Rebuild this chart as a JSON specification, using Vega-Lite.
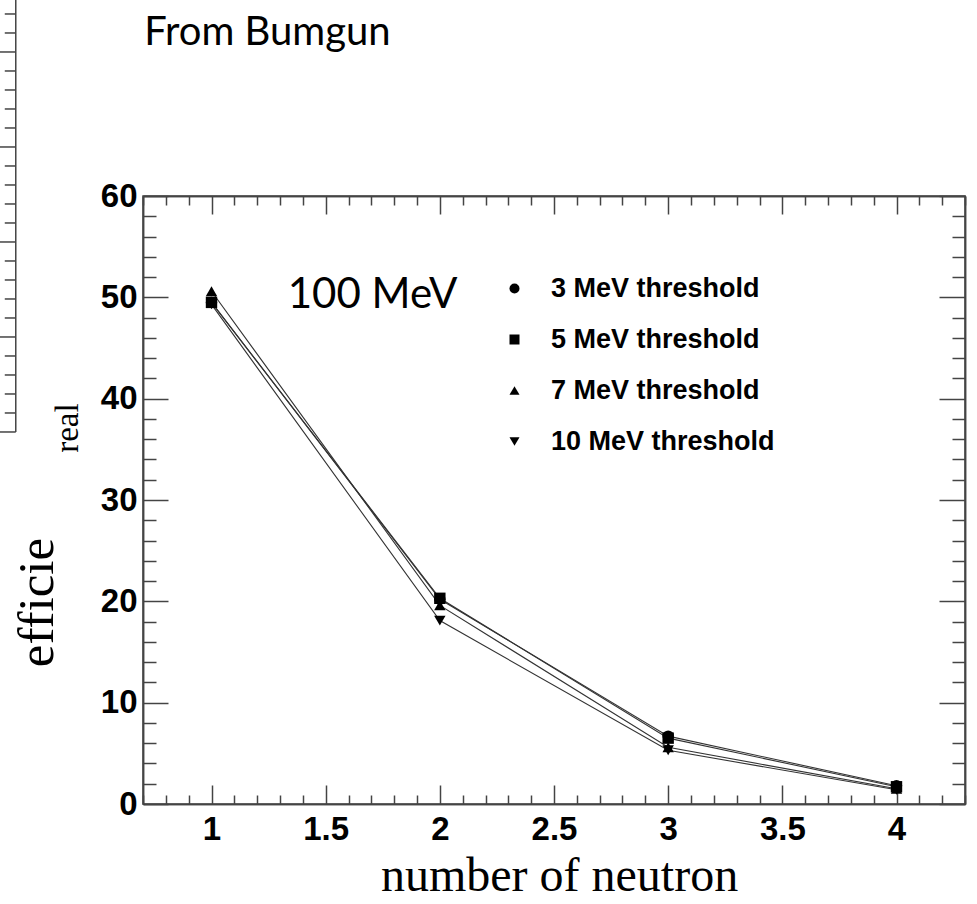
{
  "$schema": "https://vega.github.io/schema/vega-lite/v6.json",
  "width": 822,
  "height": 608,
  "autosize": {"type": "none"},
  "padding": {"left": 143, "top": 196, "right": 12, "bottom": 100},
  "background": "white",
  "config": {
    "view": {"stroke": "#444", "strokeWidth": 1.5},
    "axis": {
      "grid": false,
      "domainColor": "#444",
      "domainWidth": 1.5,
      "tickColor": "#444",
      "tickWidth": 1.5,
      "labelFont": "Liberation Sans",
      "labelFontWeight": "bold",
      "labelFontSize": 33,
      "labelColor": "black",
      "labelOverlap": false,
      "labelFlush": false
    }
  },
  "datasets": {
    "eff": [
      {"n": 1, "eff": 49.3, "thr": "10 MeV threshold"},
      {"n": 2, "eff": 18.1, "thr": "10 MeV threshold"},
      {"n": 3, "eff": 5.3, "thr": "10 MeV threshold"},
      {"n": 4, "eff": 1.4, "thr": "10 MeV threshold"},
      {"n": 1, "eff": 49.5, "thr": "3 MeV threshold"},
      {"n": 2, "eff": 20.2, "thr": "3 MeV threshold"},
      {"n": 3, "eff": 6.7, "thr": "3 MeV threshold"},
      {"n": 4, "eff": 1.8, "thr": "3 MeV threshold"},
      {"n": 1, "eff": 50.6, "thr": "7 MeV threshold"},
      {"n": 2, "eff": 19.6, "thr": "7 MeV threshold"},
      {"n": 3, "eff": 5.6, "thr": "7 MeV threshold"},
      {"n": 4, "eff": 1.5, "thr": "7 MeV threshold"},
      {"n": 1, "eff": 49.5, "thr": "5 MeV threshold"},
      {"n": 2, "eff": 20.3, "thr": "5 MeV threshold"},
      {"n": 3, "eff": 6.5, "thr": "5 MeV threshold"},
      {"n": 4, "eff": 1.7, "thr": "5 MeV threshold"}
    ],
    "energy": [{"n": 1.334, "eff": 48.95, "label": "100 MeV"}],
    "heading": [{"n": 0.705, "eff": 74.9, "label": "From Bumgun"}],
    "cut": [{"n": 0.4144, "eff": 37.1, "label": "real"}],
    "side": [
      {"v": 0, "major": true}, {"v": 0.2, "major": false}, {"v": 0.4, "major": false}, {"v": 0.6, "major": false}, {"v": 0.8, "major": false},
      {"v": 1, "major": true}, {"v": 1.2, "major": false}, {"v": 1.4, "major": false}, {"v": 1.6, "major": false}, {"v": 1.8, "major": false},
      {"v": 2, "major": true}, {"v": 2.2, "major": false}, {"v": 2.4, "major": false}, {"v": 2.6, "major": false}, {"v": 2.8, "major": false},
      {"v": 3, "major": true}, {"v": 3.2, "major": false}, {"v": 3.4, "major": false}, {"v": 3.6, "major": false}, {"v": 3.8, "major": false},
      {"v": 4, "major": true}, {"v": 4.2, "major": false}, {"v": 4.4, "major": false}
    ]
  },
  "layer": [
    {
      "layer": [
        {
          "data": {"name": "eff"},
          "mark": {"type": "line", "color": "#333", "strokeWidth": 1.1},
          "encoding": {
            "x": {
              "field": "n",
              "type": "quantitative",
              "scale": {"domain": [0.7, 4.3], "nice": false, "zero": false},
              "axis": {
                "orient": "bottom",
                "title": "number of neutron",
                "titleFont": "Liberation Serif",
                "titleFontSize": 48,
                "titleFontWeight": "normal",
                "titleColor": "black",
                "titleX": 416,
                "titleY": 86,
                "titleAlign": "center",
                "titleBaseline": "alphabetic",
                "values": [1, 1.5, 2, 2.5, 3, 3.5, 4],
                "format": "~g",
                "labelOverlap": false,
                "labelFlush": false,
                "tickSize": -19,
                "labelPadding": 28
              }
            },
            "y": {
              "field": "eff",
              "type": "quantitative",
              "scale": {"domain": [0, 60], "nice": false},
              "axis": {
                "orient": "left",
                "title": "efficie",
                "titleFont": "Liberation Serif",
                "titleFontSize": 51,
                "titleFontWeight": "normal",
                "titleColor": "black",
                "titleAngle": 270,
                "titleX": -91,
                "titleY": 406,
                "titleAlign": "center",
                "titleBaseline": "alphabetic",
                "values": [0, 10, 20, 30, 40, 50, 60],
                "labelOverlap": false,
                "labelFlush": false,
                "tickSize": -25,
                "labelPadding": 31
              }
            },
            "detail": {"field": "thr", "type": "nominal"}
          }
        },
        {
          "data": {"name": "eff"},
          "mark": {"type": "point", "filled": true, "opacity": 1, "size": 130, "color": "black"},
          "encoding": {
            "x": {"field": "n", "type": "quantitative"},
            "y": {"field": "eff", "type": "quantitative"},
            "shape": {
              "field": "thr",
              "type": "nominal",
              "scale": {
                "domain": ["3 MeV threshold", "5 MeV threshold", "7 MeV threshold", "10 MeV threshold"],
                "range": ["circle", "square", "triangle-up", "triangle-down"]
              },
              "legend": {
                "orient": "none",
                "legendX": 358,
                "legendY": 79,
                "title": null,
                "padding": 0,
                "symbolSize": 100,
                "symbolFillColor": "black",
                "symbolStrokeColor": "black",
                "symbolStrokeWidth": 0,
                "labelFont": "Liberation Sans",
                "labelFontWeight": "bold",
                "labelFontSize": 27,
                "labelColor": "black",
                "labelOffset": 23,
                "rowPadding": 23,
                "labelLimit": 400
              }
            }
          }
        },
        {
          "data": {"name": "energy"},
          "mark": {"type": "text", "align": "left", "baseline": "alphabetic", "font": "Lato", "fontSize": 42, "color": "black"},
          "encoding": {
            "x": {"field": "n", "type": "quantitative"},
            "y": {"field": "eff", "type": "quantitative"},
            "text": {"field": "label"}
          }
        },
        {
          "data": {"name": "heading"},
          "mark": {"type": "text", "align": "left", "baseline": "alphabetic", "font": "Lato", "fontSize": 40, "color": "black"},
          "encoding": {
            "x": {"field": "n", "type": "quantitative"},
            "y": {"field": "eff", "type": "quantitative"},
            "text": {"field": "label"}
          }
        },
        {
          "data": {"name": "cut"},
          "mark": {"type": "text", "align": "center", "baseline": "alphabetic", "angle": 270, "font": "Liberation Serif", "fontSize": 33, "color": "black"},
          "encoding": {
            "x": {"field": "n", "type": "quantitative"},
            "y": {"field": "eff", "type": "quantitative"},
            "text": {"field": "label"}
          }
        }
      ]
    },
    {
      "data": {"name": "eff"},
      "mark": {"type": "point", "opacity": 0},
      "encoding": {
        "x": {
          "field": "n",
          "type": "quantitative",
          "scale": {"domain": [0.7, 4.3], "nice": false, "zero": false},
          "axis": {
            "orient": "bottom",
            "title": null,
            "labels": false,
            "values": [0.7, 0.8, 0.9, 1.1, 1.2, 1.3, 1.4, 1.6, 1.7, 1.8, 1.9, 2.1, 2.2, 2.3, 2.4, 2.6, 2.7, 2.8, 2.9, 3.1, 3.2, 3.3, 3.4, 3.6, 3.7, 3.8, 3.9, 4.1, 4.2, 4.3],
            "tickSize": -9
          }
        },
        "y": {
          "field": "eff",
          "type": "quantitative",
          "scale": {"domain": [0, 60], "nice": false},
          "axis": {
            "orient": "left",
            "title": null,
            "labels": false,
            "values": [2, 4, 6, 8, 12, 14, 16, 18, 22, 24, 26, 28, 32, 34, 36, 38, 42, 44, 46, 48, 52, 54, 56, 58],
            "tickSize": -13
          }
        }
      }
    },
    {
      "data": {"name": "eff"},
      "mark": {"type": "point", "opacity": 0},
      "encoding": {
        "x": {
          "field": "n",
          "type": "quantitative",
          "scale": {"domain": [0.7, 4.3], "nice": false, "zero": false},
          "axis": {
            "orient": "top",
            "title": null,
            "labels": false,
            "values": [1, 1.5, 2, 2.5, 3, 3.5, 4],
            "tickSize": -18
          }
        },
        "y": {
          "field": "eff",
          "type": "quantitative",
          "scale": {"domain": [0, 60], "nice": false},
          "axis": {
            "orient": "right",
            "title": null,
            "labels": false,
            "values": [0, 10, 20, 30, 40, 50, 60],
            "tickSize": -26
          }
        }
      }
    },
    {
      "data": {"name": "eff"},
      "mark": {"type": "point", "opacity": 0},
      "encoding": {
        "x": {
          "field": "n",
          "type": "quantitative",
          "scale": {"domain": [0.7, 4.3], "nice": false, "zero": false},
          "axis": {
            "orient": "top",
            "title": null,
            "labels": false,
            "values": [0.7, 0.8, 0.9, 1.1, 1.2, 1.3, 1.4, 1.6, 1.7, 1.8, 1.9, 2.1, 2.2, 2.3, 2.4, 2.6, 2.7, 2.8, 2.9, 3.1, 3.2, 3.3, 3.4, 3.6, 3.7, 3.8, 3.9, 4.1, 4.2, 4.3],
            "tickSize": -9
          }
        },
        "y": {
          "field": "eff",
          "type": "quantitative",
          "scale": {"domain": [0, 60], "nice": false},
          "axis": {
            "orient": "right",
            "title": null,
            "labels": false,
            "values": [2, 4, 6, 8, 12, 14, 16, 18, 22, 24, 26, 28, 32, 34, 36, 38, 42, 44, 46, 48, 52, 54, 56, 58],
            "tickSize": -13
          }
        }
      }
    },
    {
      "data": {"name": "side"},
      "layer": [
        {
          "transform": [{"filter": "datum.major"}],
          "mark": {"type": "rule", "color": "#444", "strokeWidth": 1.5, "x2Offset": -17},
          "encoding": {
            "x": {"datum": 0.1428, "type": "quantitative", "scale": {"domain": [0.7, 4.3], "nice": false, "zero": false}, "axis": null},
            "x2": {"datum": 0.1428},
            "y": {"field": "v", "type": "quantitative", "scale": {"domain": [-3.916, 2.484], "nice": false, "zero": false}, "axis": null}
          }
        },
        {
          "transform": [{"filter": "!datum.major"}],
          "mark": {"type": "rule", "color": "#444", "strokeWidth": 1.5, "x2Offset": -11},
          "encoding": {
            "x": {"datum": 0.1428, "type": "quantitative", "axis": null},
            "x2": {"datum": 0.1428},
            "y": {"field": "v", "type": "quantitative", "axis": null}
          }
        },
        {
          "transform": [{"filter": "datum.v === 0"}],
          "mark": {"type": "rule", "color": "#444", "strokeWidth": 1.5},
          "encoding": {
            "x": {"datum": 0.1428, "type": "quantitative", "axis": null},
            "y": {"field": "v", "type": "quantitative", "axis": null},
            "y2": {"datum": 4.7}
          }
        }
      ]
    }
  ],
  "resolve": {"scale": {"y": "independent"}, "axis": {"x": "independent", "y": "independent"}}
}
